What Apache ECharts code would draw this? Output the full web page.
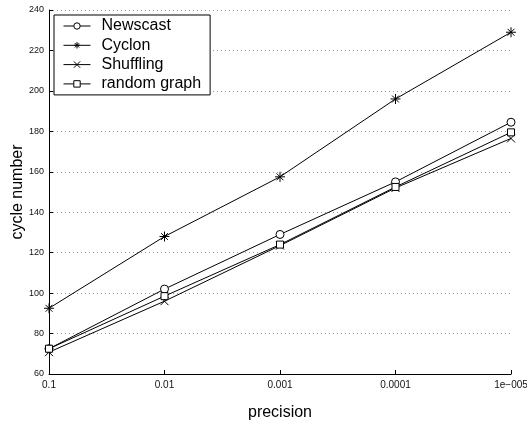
<!DOCTYPE html>
<html>
<head>
<meta charset="utf-8">
<script src="https://cdn.jsdelivr.net/npm/echarts@6/dist/echarts.min.js"></script>
<style>
  html, body { margin: 0; padding: 0; background: #fff; }
  #chart { width: 527px; height: 421px; }
</style>
</head>
<body>
<div id="chart"></div>
<script>
// precision levels on the x axis
var precision = ['0.1', '0.01', '0.001', '0.0001', '1e\u2212005'];

// cycle numbers
var newscast    = [72.5, 102, 129, 155, 184.5];
var cyclon      = [92.5, 128, 157.5, 196, 229];
var shuffling   = [70.8, 96, 123.5, 152, 176.5];
var randomGraph = [72.5, 98.5, 124, 152.5, 179.5];

var yTicks = { min: 60, max: 240, step: 20 };

var FONT = 'Liberation Sans, Arial, Helvetica, sans-serif';
var asterisk = 'path://M5 0L5 10M0 5L10 5M1.6 1.6L8.4 8.4M8.4 1.6L1.6 8.4';
var cross = 'path://M0 0L10 10M10 0L0 10';

function makeSeries(name, data, symbol, size, hollow) {
    return {
        name: name,
        type: 'line',
        data: data,
        symbol: symbol,
        symbolSize: size,
        showAllSymbol: true,
        animation: false,
        lineStyle: { color: '#000', width: 1 },
        itemStyle: hollow
            ? { color: '#fff', borderColor: '#000', borderWidth: 1 }
            : { color: '#000', borderColor: '#000', borderWidth: 1 },
        emphasis: { disabled: true }
    };
}

var chart = echarts.init(document.getElementById('chart'));
chart.setOption({
    animation: false,
    textStyle: { fontFamily: FONT },
    grid: { left: 49, right: 16, top: 10, bottom: 47, outerBoundsMode: 'none', containLabel: false },
    legend: {
        orient: 'vertical',
        left: 54,
        top: 15,
        padding: [3, 9, 3, 9],
        borderColor: '#000',
        borderWidth: 1,
        backgroundColor: '#fff',
        itemWidth: 27,
        itemHeight: 8,
        itemGap: 3.3,
        lineStyle: { width: 1, color: '#000' },
        itemStyle: { borderWidth: 1, borderColor: '#000' },
        textStyle: { fontFamily: FONT, fontSize: 16, color: '#000', lineHeight: 16, padding: [0, 0, 0, 6] },
        data: ['Newscast', 'Cyclon', 'Shuffling', 'random graph']
    },
    xAxis: {
        type: 'category',
        boundaryGap: false,
        data: precision,
        name: 'precision',
        nameLocation: 'middle',
        nameGap: 31,
        nameMoveOverlap: false,
        nameTextStyle: { fontFamily: FONT, fontSize: 16, color: '#000' },
        axisLine: { lineStyle: { color: '#000', width: 1 } },
        axisTick: { inside: true, length: 4, lineStyle: { color: '#000' } },
        axisLabel: { fontFamily: FONT, fontSize: 10, color: '#111', margin: 6 },
        splitLine: { show: false }
    },
    yAxis: {
        type: 'value',
        min: yTicks.min,
        max: yTicks.max,
        interval: yTicks.step,
        name: 'cycle number',
        nameLocation: 'middle',
        nameGap: 23,
        nameMoveOverlap: false,
        nameTextStyle: { fontFamily: FONT, fontSize: 16, color: '#000' },
        axisLine: { show: true, lineStyle: { color: '#000', width: 1 } },
        axisTick: { show: true, inside: true, length: 4, lineStyle: { color: '#000' } },
        axisLabel: { fontFamily: FONT, fontSize: 9, color: '#111', margin: 5 },
        splitLine: { show: true, lineStyle: { color: '#999', type: [1, 3], width: 1 } }
    },
    series: [
        makeSeries('Newscast', newscast, 'circle', 8, true),
        makeSeries('Cyclon', cyclon, asterisk, 10, false),
        makeSeries('Shuffling', shuffling, cross, 8, false),
        makeSeries('random graph', randomGraph, 'rect', 7, true)
    ]
});
</script>
</body>
</html>
